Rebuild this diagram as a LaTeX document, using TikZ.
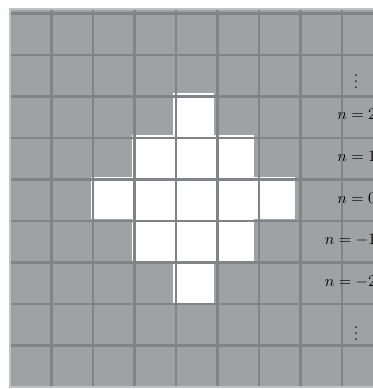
\documentclass[tikz,border=0pt]{standalone}
\usepackage{amsmath, amssymb}
\usepackage{xcolor}
\usepackage{tikz}
\usetikzlibrary{positioning}

\definecolor{cellgray}{RGB}{160,161,165}
\definecolor{linegray}{RGB}{130,131,135}

\begin{document}
\begin{tikzpicture}[
    x=0.981cm, y=1.012cm,
    cell/.style={fill=white},
    gridline/.style={draw=linegray, line width=1.5pt},
    rowlabel/.style={anchor=east, inner sep=0pt, font=\fontsize{10.5}{12}\selectfont},
    dots/.style={inner sep=0pt, font=\fontsize{10.5}{12}\selectfont},
]
    \useasboundingbox (-0.246,-0.048) rectangle (8.894,9.214);

    % background and white cells
    \fill[cellgray] (0,0) rectangle (9,9);
    \foreach \c/\r in {4/6, 3/5, 4/5, 5/5, 2/4, 3/4, 4/4, 5/4, 6/4, 3/3, 4/3, 5/3, 4/2}
        \fill[cell] (\c,\r) rectangle ++(1,1);
    \draw[gridline] (0,0) grid (9,9);
    \draw[draw=linegray!50, line width=0.8pt] (0,0) rectangle (9,9);

    % Labels
    \node[dots] (vtop) at (8.5,7.38) {$\vdots$};
    \node[rowlabel] (n2) at (9,6.5) {$n=2$};
    \node[rowlabel] (n1) at (9,5.5) {$n=1$};
    \node[rowlabel] (n0) at (9,4.5) {$n=0$};
    \node[rowlabel] (nm1) at (9,3.5) {$n=-1$};
    \node[rowlabel] (nm2) at (9,2.5) {$n=-2$};
    \node[dots] (vbot) at (8.5,1.38) {$\vdots$};
\end{tikzpicture}
\end{document}
